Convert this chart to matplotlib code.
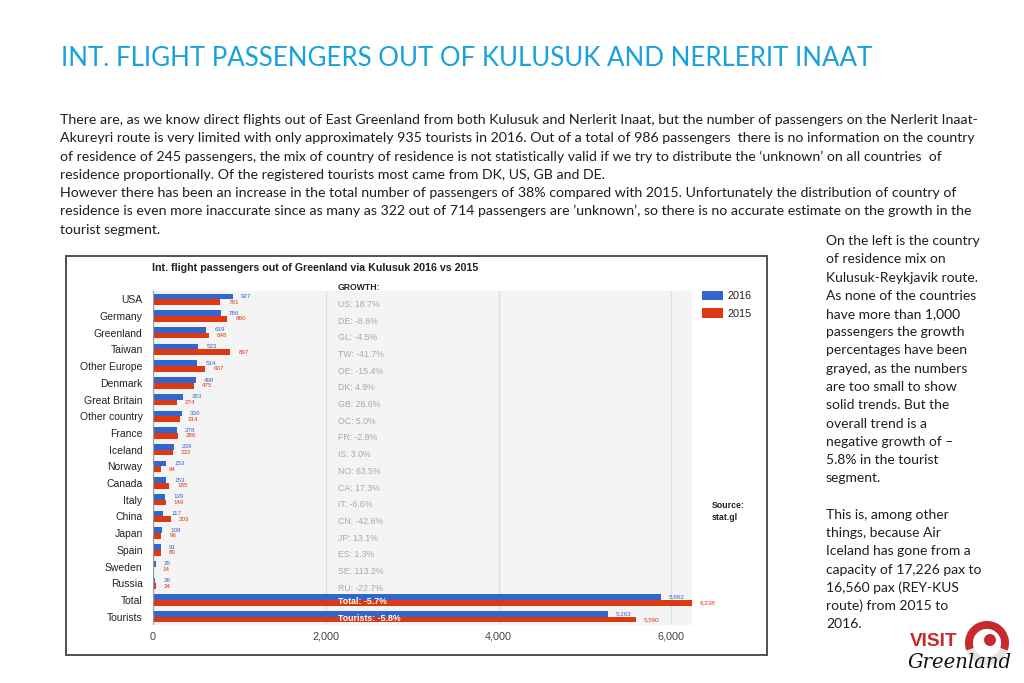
import matplotlib
matplotlib.use('Agg')
import matplotlib.pyplot as plt
from matplotlib.patches import Rectangle, Wedge, Circle
import numpy as np

# ---------------- data ----------------
categories = ['USA', 'Germany', 'Greenland', 'Taiwan', 'Other Europe', 'Denmark',
              'Great Britain', 'Other country', 'France', 'Iceland', 'Norway', 'Canada',
              'Italy', 'China', 'Japan', 'Spain', 'Sweden', 'Russia', 'Total', 'Tourists']
values_2016 = [927, 786, 619, 523, 514, 498, 353, 330, 278, 239, 153, 153,
               139, 117, 108, 91, 29, 26, 5882, 5263]
values_2015 = [781, 860, 648, 897, 607, 475, 274, 314, 286, 232, 94, 185,
               149, 203, 96, 89, 14, 34, 6238, 5590]
growth_labels = ['US: 18.7%', 'DE: -8.6%', 'GL: -4.5%', 'TW: -41.7%', 'OE: -15.4%',
                 'DK: 4.9%', 'GB: 28.6%', 'OC: 5.0%', 'FR: -2.8%', 'IS: 3.0%',
                 'NO: 63.5%', 'CA: 17.3%', 'IT: -6.6%', 'CN: -42.6%', 'JP: 13.1%',
                 'ES: 1.3%', 'SE: 113.2%', 'RU: -22.7%', 'Total: -5.7%', 'Tourists: -5.8%']
series_labels = ['2016', '2015']
x_ticks = [0, 2000, 4000, 6000]
x_tick_labels = ['0', '2,000', '4,000', '6,000']

page_title = 'INT. FLIGHT PASSENGERS OUT OF KULUSUK AND NERLERIT INAAT'
paragraph = [
    'There are, as we know direct flights out of East Greenland from both Kulusuk and Nerlerit Inaat, but the number of passengers on the Nerlerit Inaat-',
    'Akureyri route is very limited with only approximately 935 tourists in 2016. Out of a total of 986 passengers  there is no information on the country',
    'of residence of 245 passengers, the mix of country of residence is not statistically valid if we try to distribute the \u2018unknown\u2019 on all countries  of',
    'residence proportionally. Of the registered tourists most came from DK, US, GB and DE.',
    'However there has been an increase in the total number of passengers of 38% compared with 2015. Unfortunately the distribution of country of',
    'residence is even more inaccurate since as many as 322 out of 714 passengers are \u2019unknown\u2019, so there is no accurate estimate on the growth in the',
    'tourist segment.',
]
side_text = [
    'On the left is the country', 'of residence mix on', 'Kulusuk-Reykjavik route.',
    'As none of the countries', 'have more than 1,000', 'passengers the growth',
    'percentages have been', 'grayed, as the numbers', 'are too small to show',
    'solid trends. But the', 'overall trend is a', 'negative growth of \u2013',
    '5.8% in the tourist', 'segment.', '', 'This is, among other',
    'things, because Air', 'Iceland has gone from a', 'capacity of 17,226 pax to',
    '16,560 pax (REY-KUS', 'route) from 2015 to', '2016.',
]
chart_title = 'Int. flight passengers out of Greenland via Kulusuk 2016 vs 2015'

BLUE = '#3366cc'
RED = '#dc3912'
W, H = 1024, 683

fig = plt.figure(figsize=(W / 100, H / 100), dpi=100)
page = fig.add_axes([0, 0, 1, 1])
page.set_xlim(0, W)
page.set_ylim(H, 0)
page.axis('off')
renderer = fig.canvas.get_renderer()


def fit(x, y, s, width, **kw):
    t = page.text(x, y, s, fontsize=10, **kw)
    w = t.get_window_extent(renderer).width
    t.set_fontsize(10 * width / w)
    return t


# page title
fit(61, 58, page_title, 805, color='#17a2dc', family='Lato', va='center')

# paragraph
t0 = fit(60, 120, paragraph[0], 915, color='#1e1e1e', family='Lato', va='center')
ps = t0.get_fontsize()
for i, line in enumerate(paragraph[1:], start=1):
    page.text(60, 120 + i * 18.25, line, fontsize=ps, color='#1e1e1e',
              family='Lato', va='center')

# side text
s0 = fit(826, 241, side_text[0], 154, color='#1e1e1e', family='Lato', va='center')
ss = s0.get_fontsize()
for i, line in enumerate(side_text[1:], start=1):
    if line:
        page.text(826, 241 + i * 18.25, line, fontsize=ss, color='#1e1e1e',
                  family='Lato', va='center')

# chart frame
page.add_patch(Rectangle((66, 256), 701, 399, facecolor='white',
                         edgecolor='#505050', lw=1.4))
fit(152, 268, chart_title, 325, color='#222222', family='Liberation Sans',
    weight='bold', va='center')
page.text(712, 505, 'Source:', fontsize=6.3, color='#222222',
          family='Liberation Sans', weight='bold', va='center')
page.text(712, 517, 'stat.gl', fontsize=6.3, color='#222222',
          family='Liberation Sans', weight='bold', va='center')

# logo (approximation)
page.add_patch(Circle((987, 643), 22, facecolor='#e2e2e2', edgecolor='none'))
page.add_patch(Wedge((987, 643), 22, 160, 380, width=8, facecolor='#c62a2f',
                     edgecolor='none'))
page.add_patch(Circle((987, 643), 14, facecolor='white', edgecolor='none'))
page.add_patch(Circle((990, 640), 6, facecolor='#c62a2f', edgecolor='none'))
fit(910, 641, 'VISIT', 47, color='#c62a2f', family='Liberation Sans',
    weight='bold', va='center')
fit(908, 663, 'Greenland', 104, color='#111111', family='DejaVu Serif',
    style='italic', va='center')

# ---------------- chart ----------------
ax = fig.add_axes([153 / W, 1 - 625 / H, 539 / W, 334 / H])
ax.set_facecolor('#f4f4f4')
n = len(categories)
y = np.arange(n)
off, bh = 0.17, 0.34
b16 = ax.barh(y - off, values_2016, height=bh, color=BLUE, label=series_labels[0], zorder=3)
b15 = ax.barh(y + off, values_2015, height=bh, color=RED, label=series_labels[1], zorder=3)
ax.set_xlim(0, 6240)
ax.set_ylim(n - 0.5, -0.5)
ax.set_yticks(y, categories)
ax.set_xticks(x_ticks, x_tick_labels)
ax.tick_params(axis='y', length=0, pad=7.5, labelsize=7.5, labelcolor='#222222')
ax.tick_params(axis='x', length=0, pad=5, labelsize=7.8, labelcolor='#444444')
for lab in ax.get_xticklabels() + ax.get_yticklabels():
    lab.set_family('Liberation Sans')
for sp in ax.spines.values():
    sp.set_visible(False)
ax.set_axisbelow(True)
ax.xaxis.grid(True, color='#dedede', lw=0.9)
ax.axvline(0, color='#9a9a9a', lw=1.6, zorder=4)

ax.bar_label(b16, labels=[f'{v:,}' for v in values_2016], padding=5.8,
             fontsize=4.5, color=BLUE, family='Liberation Sans')
ax.bar_label(b15, labels=[f'{v:,}' for v in values_2015], padding=5.8,
             fontsize=4.5, color=RED, family='Liberation Sans')

tr = ax.get_yaxis_transform()
gx = (338 - 153) / 539
ax.text(gx, -0.7, 'GROWTH:', transform=tr, fontsize=6.2, weight='bold',
        color='#222222', family='Liberation Sans', va='center', zorder=5)
for i, g in enumerate(growth_labels):
    if i >= n - 2:
        ax.text(gx, i + 0.1, g, transform=tr, fontsize=6.3, weight='bold',
                color='white', family='Liberation Sans', va='center', zorder=5)
    else:
        ax.text(gx, i + 0.3, g, transform=tr, fontsize=6.3, color='#a8a8a8',
                family='Liberation Sans', va='center', zorder=5)

leg = ax.legend(handles=[b16, b15], labels=series_labels, loc='upper left',
                bbox_to_anchor=(702 / W, 1 - 291 / H), bbox_transform=fig.transFigure,
                frameon=False, handlelength=1.95, handleheight=0.93,
                handletextpad=0.45, labelspacing=0.65, borderpad=0, borderaxespad=0,
                prop={'family': 'Liberation Sans', 'size': 7.8})
for t in leg.get_texts():
    t.set_color('#222222')

fig.savefig('out.png', dpi=100)
